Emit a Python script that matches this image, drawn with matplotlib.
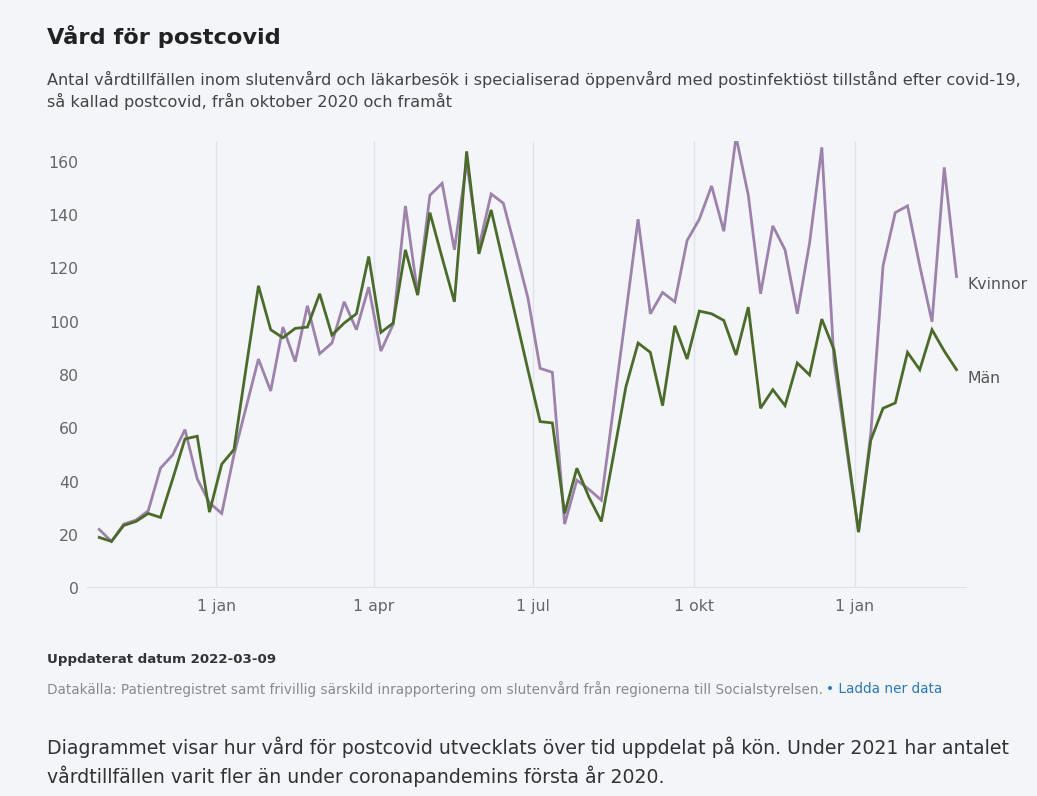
import matplotlib.pyplot as plt
import matplotlib.dates as mdates
import pandas as pd
import numpy as np

# veckovis data, från slutet av oktober 2020
start_vecka = "2020-10-26"
kvinnor = [22, 17.5, 24, 25.5, 29, 45, 50, 59.5, 41, 32,
           28, 50, 68, 86, 74, 98, 85, 106, 88, 92,
           107.5, 97, 113, 89, 99, 143.5, 110.5, 147.5, 152, 127,
           160, 128, 148, 144.5, 127, 109, 82.5, 81, 24, 40.5,
           37, 33, 68, 103, 138.5, 103, 111, 107.5, 130.5, 138.5,
           151, 134, 169.5, 147.5, 110.5, 136, 127, 103, 129.5, 165.5,
           85, 53, 21, 58, 121, 141, 143.5, 121, 100, 158,
           117]
man = [19, 17.5, 23.5, 25, 28, 26.5, 41, 56, 57, 28.5,
       46.5, 52, 83, 113.5, 97, 94, 97.5, 98, 110.5, 95,
       99.5, 103, 124.5, 96, 99.5, 127, 110, 141, 124, 107.5,
       164, 125.5, 142, 122, 102, 82, 62.5, 62, 28, 45,
       34, 25, 50, 75.5, 92, 88.5, 68.5, 98.5, 86, 104,
       103, 100.5, 87.5, 105.5, 67.5, 74.5, 68.5, 84.5, 80, 101,
       89.5, 55, 21, 55.5, 67.5, 69.5, 88.5, 82, 97, 89,
       82]

datum = pd.date_range(start_vecka, periods=len(kvinnor), freq="7D")

tick_datum = pd.to_datetime(["2021-01-01", "2021-04-01", "2021-07-01", "2021-10-01", "2022-01-01"])
tick_text = ["1 jan", "1 apr", "1 jul", "1 okt", "1 jan"]
y_ticks = [0, 20, 40, 60, 80, 100, 120, 140, 160]

bg = "#f3f5f9"
lila = "#9d82ab"
gron = "#4b6b2b"

W, H = 1037, 796
fig = plt.figure(figsize=(W / 100, H / 100), dpi=100, facecolor=bg)

def px(x, y):
    return x / W, 1 - y / H

# axlar placerade i pixlar
ymax = 168
ax = fig.add_axes([87 / W, (H - 588) / H, 880 / W, ymax * 2.6625 / H])
ax.set_facecolor(bg)

ax.plot(datum, kvinnor, color=lila, lw=2.0, solid_joinstyle="miter", zorder=3)
ax.plot(datum, man, color=gron, lw=2.0, solid_joinstyle="miter", zorder=4)

ax.set_xlim(pd.Timestamp("2020-10-19"), pd.Timestamp("2022-03-06"))
ax.set_ylim(0, ymax)
ax.set_xticks(tick_datum)
ax.set_xticklabels(tick_text)
ax.set_yticks(y_ticks)
ax.grid(axis="x", color="#e0e3ea", lw=1)
ax.grid(axis="y", visible=False)
ax.axhline(0, color="#dde1e8", lw=1.6, zorder=1)
for s in ax.spines.values():
    s.set_visible(False)
ax.tick_params(length=0, labelsize=11.3, labelcolor="#666666", pad=8)
ax.tick_params(axis="y", pad=6)
for lab in ax.get_xticklabels() + ax.get_yticklabels():
    lab.set_family("DejaVu Sans")

# serienamn vid sista punkten
ax.annotate("Kvinnor", (datum[-1], kvinnor[-1]), xytext=(8, -6), textcoords="offset points",
            va="center", ha="left", fontsize=11.3, color="#555555", family="DejaVu Sans")
ax.annotate("Män", (datum[-1], man[-1]), xytext=(8, -6), textcoords="offset points",
            va="center", ha="left", fontsize=11.3, color="#555555", family="DejaVu Sans")

# texter
fig.text(*px(47, 36), "Vård för postcovid", fontsize=16.2, fontweight="bold",
         color="#222222", family="DejaVu Sans", va="center")
fig.text(*px(47, 79), "Antal vårdtillfällen inom slutenvård och läkarbesök i specialiserad öppenvård med postinfektiöst tillstånd efter covid-19,",
         fontsize=11.6, color="#444444", family="DejaVu Sans", va="center")
fig.text(*px(47, 101), "så kallad postcovid, från oktober 2020 och framåt",
         fontsize=11.6, color="#444444", family="DejaVu Sans", va="center")

fig.text(*px(47, 659), "Uppdaterat datum 2022-03-09", fontsize=9.6, fontweight="bold",
         color="#333333", family="DejaVu Sans", va="center")
fig.text(*px(47, 689), "Datakälla: Patientregistret samt frivillig särskild inrapportering om slutenvård från regionerna till Socialstyrelsen.",
         fontsize=9.8, color="#8a8a8a", family="DejaVu Sans", va="center")
fig.text(*px(826, 689), "• Ladda ner data", fontsize=9.8, color="#2a78b5", family="DejaVu Sans", va="center")

fig.text(*px(47, 747), "Diagrammet visar hur vård för postcovid utvecklats över tid uppdelat på kön. Under 2021 har antalet",
         fontsize=13.6, color="#333333", family="DejaVu Sans", va="center")
fig.text(*px(47, 776), "vårdtillfällen varit fler än under coronapandemins första år 2020.",
         fontsize=13.6, color="#333333", family="DejaVu Sans", va="center")

fig.savefig("out.png", dpi=100, facecolor=bg)
